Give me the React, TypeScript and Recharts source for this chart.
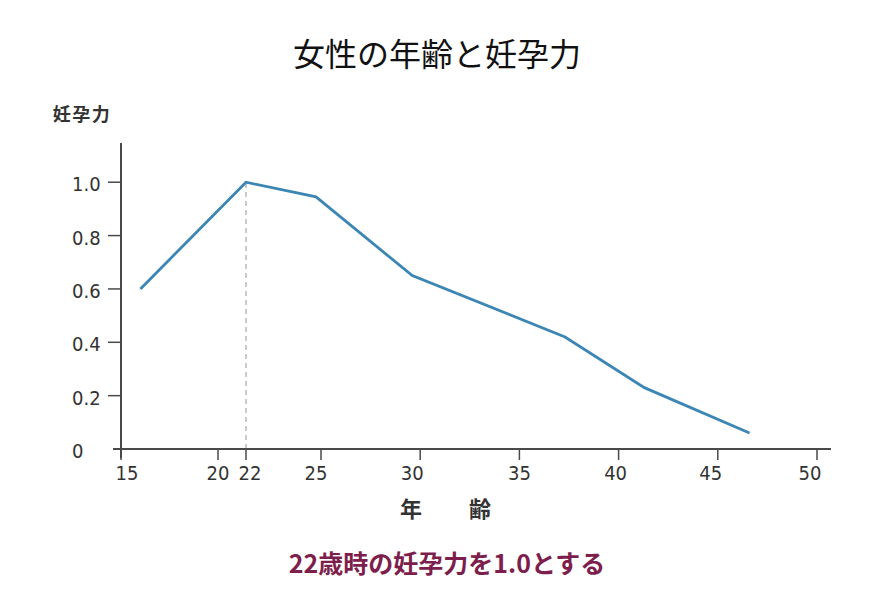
import React from 'react';
import { LineChart, Line, XAxis, YAxis, ReferenceLine } from 'recharts';

// ---- data ----
const ages = [16, 22, 24.8, 29.6, 37.3, 41.3, 46.6];
const fertility = [0.6, 1.0, 0.945, 0.65, 0.42, 0.23, 0.06];
const xTicks = [15, 20, 22, 25, 30, 35, 40, 45, 50];
const yTicks = [0, 0.2, 0.4, 0.6, 0.8, 1.0];
const yTickLabels = ['0', '0.2', '0.4', '0.6', '0.8', '1.0'];
const peakAge = 22;

const data = ages.map((a, i) => ({ age: a, value: fertility[i] }));

// ---- style: the original figure's age axis is not evenly spaced;
// this piecewise mapping reproduces its tick spacing.
const KNOT_AGE = [15, 20, 22, 25, 50];
const KNOT_POS = [15, 19.85, 21.25, 25, 49.8];
// small horizontal label offsets (px) as placed in the original figure
const LABEL_NUDGE: Record<number, number> = { 15: 6, 20: 0, 22: 4, 25: -5, 30: -8, 35: 0, 40: -3, 45: -7, 50: -7 };

function warp(a: number): number {
  if (a <= KNOT_AGE[0]) return a - KNOT_AGE[0] + KNOT_POS[0];
  for (let i = 0; i < KNOT_AGE.length - 1; i++) {
    if (a <= KNOT_AGE[i + 1]) {
      const t = (a - KNOT_AGE[i]) / (KNOT_AGE[i + 1] - KNOT_AGE[i]);
      return KNOT_POS[i] + t * (KNOT_POS[i + 1] - KNOT_POS[i]);
    }
  }
  const n = KNOT_AGE.length - 1;
  return a - KNOT_AGE[n] + KNOT_POS[n];
}
function makeAgeScale(d0: number[] = [0, 1], r0: number[] = [0, 1]): any {
  let dom = d0.slice();
  let rng = r0.slice();
  const s: any = (v: number) => {
    const u0 = warp(dom[0]);
    const u1 = warp(dom[dom.length - 1]);
    return rng[0] + ((warp(v) - u0) / (u1 - u0)) * (rng[rng.length - 1] - rng[0]);
  };
  s.domain = (d?: number[]) => {
    if (d === undefined) return dom.slice();
    dom = d.slice();
    return s;
  };
  s.range = (r?: number[]) => {
    if (r === undefined) return rng.slice();
    rng = r.slice();
    return s;
  };
  s.copy = () => makeAgeScale(dom, rng);
  s.ticks = () => xTicks.filter((t) => t >= dom[0] && t <= dom[dom.length - 1]);
  s.tickFormat = () => (v: number) => String(v);
  s.invert = (px: number) => {
    const u0 = warp(dom[0]);
    const u1 = warp(dom[dom.length - 1]);
    const u = u0 + ((px - rng[0]) / (rng[rng.length - 1] - rng[0])) * (u1 - u0);
    for (let i = 0; i < KNOT_POS.length - 1; i++) {
      if (u <= KNOT_POS[i + 1]) {
        const t = (u - KNOT_POS[i]) / (KNOT_POS[i + 1] - KNOT_POS[i]);
        return KNOT_AGE[i] + t * (KNOT_AGE[i + 1] - KNOT_AGE[i]);
      }
    }
    return u;
  };
  s.nice = () => s;
  s.clamp = () => s;
  return s;
}
const ageScale = makeAgeScale();

const NUM_FONT = "'Liberation Sans Narrow', 'DejaVu Sans Condensed', 'Liberation Sans', sans-serif";
const CJK_FONT = "'Noto Sans CJK JP', 'Noto Sans', sans-serif";
const AXIS_COLOR = '#4a4a4a';
const TEXT_COLOR = '#333333';

const XTick = (props: any) => {
  const { x, y, payload } = props;
  const nudge = LABEL_NUDGE[payload.value] ?? 0;
  return (
    <g>
      <line x1={x} x2={x} y1={y - 10} y2={y + 2} stroke={AXIS_COLOR} strokeWidth={1.5} />
      <text x={x + nudge} y={y + 22} textAnchor="middle" fontFamily={NUM_FONT} fontSize={20} fill={TEXT_COLOR}>
        {payload.value}
      </text>
    </g>
  );
};

const YTick = (props: any) => {
  const { x, y, payload } = props;
  const label = yTickLabels[yTicks.indexOf(payload.value)] ?? String(payload.value);
  return (
    <g>
      {payload.value !== 0 && (
        <line x1={x - 5} x2={x + 9} y1={y} y2={y} stroke={AXIS_COLOR} strokeWidth={1.5} />
      )}
      <text x={x - 41} y={y + 2} dominantBaseline="central" textAnchor="start" fontFamily={NUM_FONT} fontSize={20} fill={TEXT_COLOR}>
        {label}
      </text>
    </g>
  );
};

export default function App() {
  return (
    <div style={{ position: 'absolute', left: 0, top: 0, width: 889, height: 604, background: '#ffffff' }}>
      <LineChart
        width={889}
        height={604}
        data={data}
        margin={{ top: 143, right: 58, bottom: 106, left: 0 }}
      >
        <XAxis
          dataKey="age"
          type="number"
          scale={ageScale}
          domain={[14.6, 50.7]}
          allowDataOverflow
          ticks={xTicks}
          interval={0}
          height={40}
          axisLine={false}
          tickLine={false}
          tickSize={0}
          tickMargin={0}
          tick={<XTick />}
        />
        <YAxis
          type="number"
          domain={[-0.0337, 1.147]}
          allowDataOverflow
          ticks={yTicks}
          interval={0}
          width={113}
          axisLine={false}
          tickLine={false}
          tickSize={0}
          tickMargin={0}
          tick={<YTick />}
        />
        <ReferenceLine x={15} stroke={AXIS_COLOR} strokeWidth={2} />
        <ReferenceLine y={0} stroke={AXIS_COLOR} strokeWidth={2} />
        <ReferenceLine
          segment={[{ x: peakAge, y: 0 }, { x: peakAge, y: 1.0 }]}
          stroke="#8a9aa3"
          strokeWidth={1}
          strokeDasharray="5 4"
        />
        <Line
          type="linear"
          dataKey="value"
          stroke="#3b86b4"
          strokeWidth={2.8}
          dot={false}
          activeDot={false}
          isAnimationActive={false}
        />
      </LineChart>
      <svg
        width={889}
        height={604}
        style={{ position: 'absolute', left: 0, top: 0, pointerEvents: 'none' }}
      >
        <text x={437} y={52} textAnchor="middle" dominantBaseline="central" fontFamily={CJK_FONT} fontSize={32} fill="#111111">
          女性の年齢と妊孕力
        </text>
        <text x={82} y={113} textAnchor="middle" dominantBaseline="central" fontFamily={CJK_FONT} fontSize={18} fontWeight={700} fill={TEXT_COLOR} letterSpacing={1.5}>
          妊孕力
        </text>
        <text y={507} textAnchor="middle" dominantBaseline="central" fontFamily={CJK_FONT} fontSize={22} fontWeight={700} fill={TEXT_COLOR}>
          <tspan x={411}>年</tspan>
          <tspan x={480}>齢</tspan>
        </text>
        <text x={447} y={562} textAnchor="middle" dominantBaseline="central" fontFamily={CJK_FONT} fontSize={25} fontWeight={700} fill="#7d1e4c">
          22歳時の妊孕力を1.0とする
        </text>
      </svg>
    </div>
  );
}
